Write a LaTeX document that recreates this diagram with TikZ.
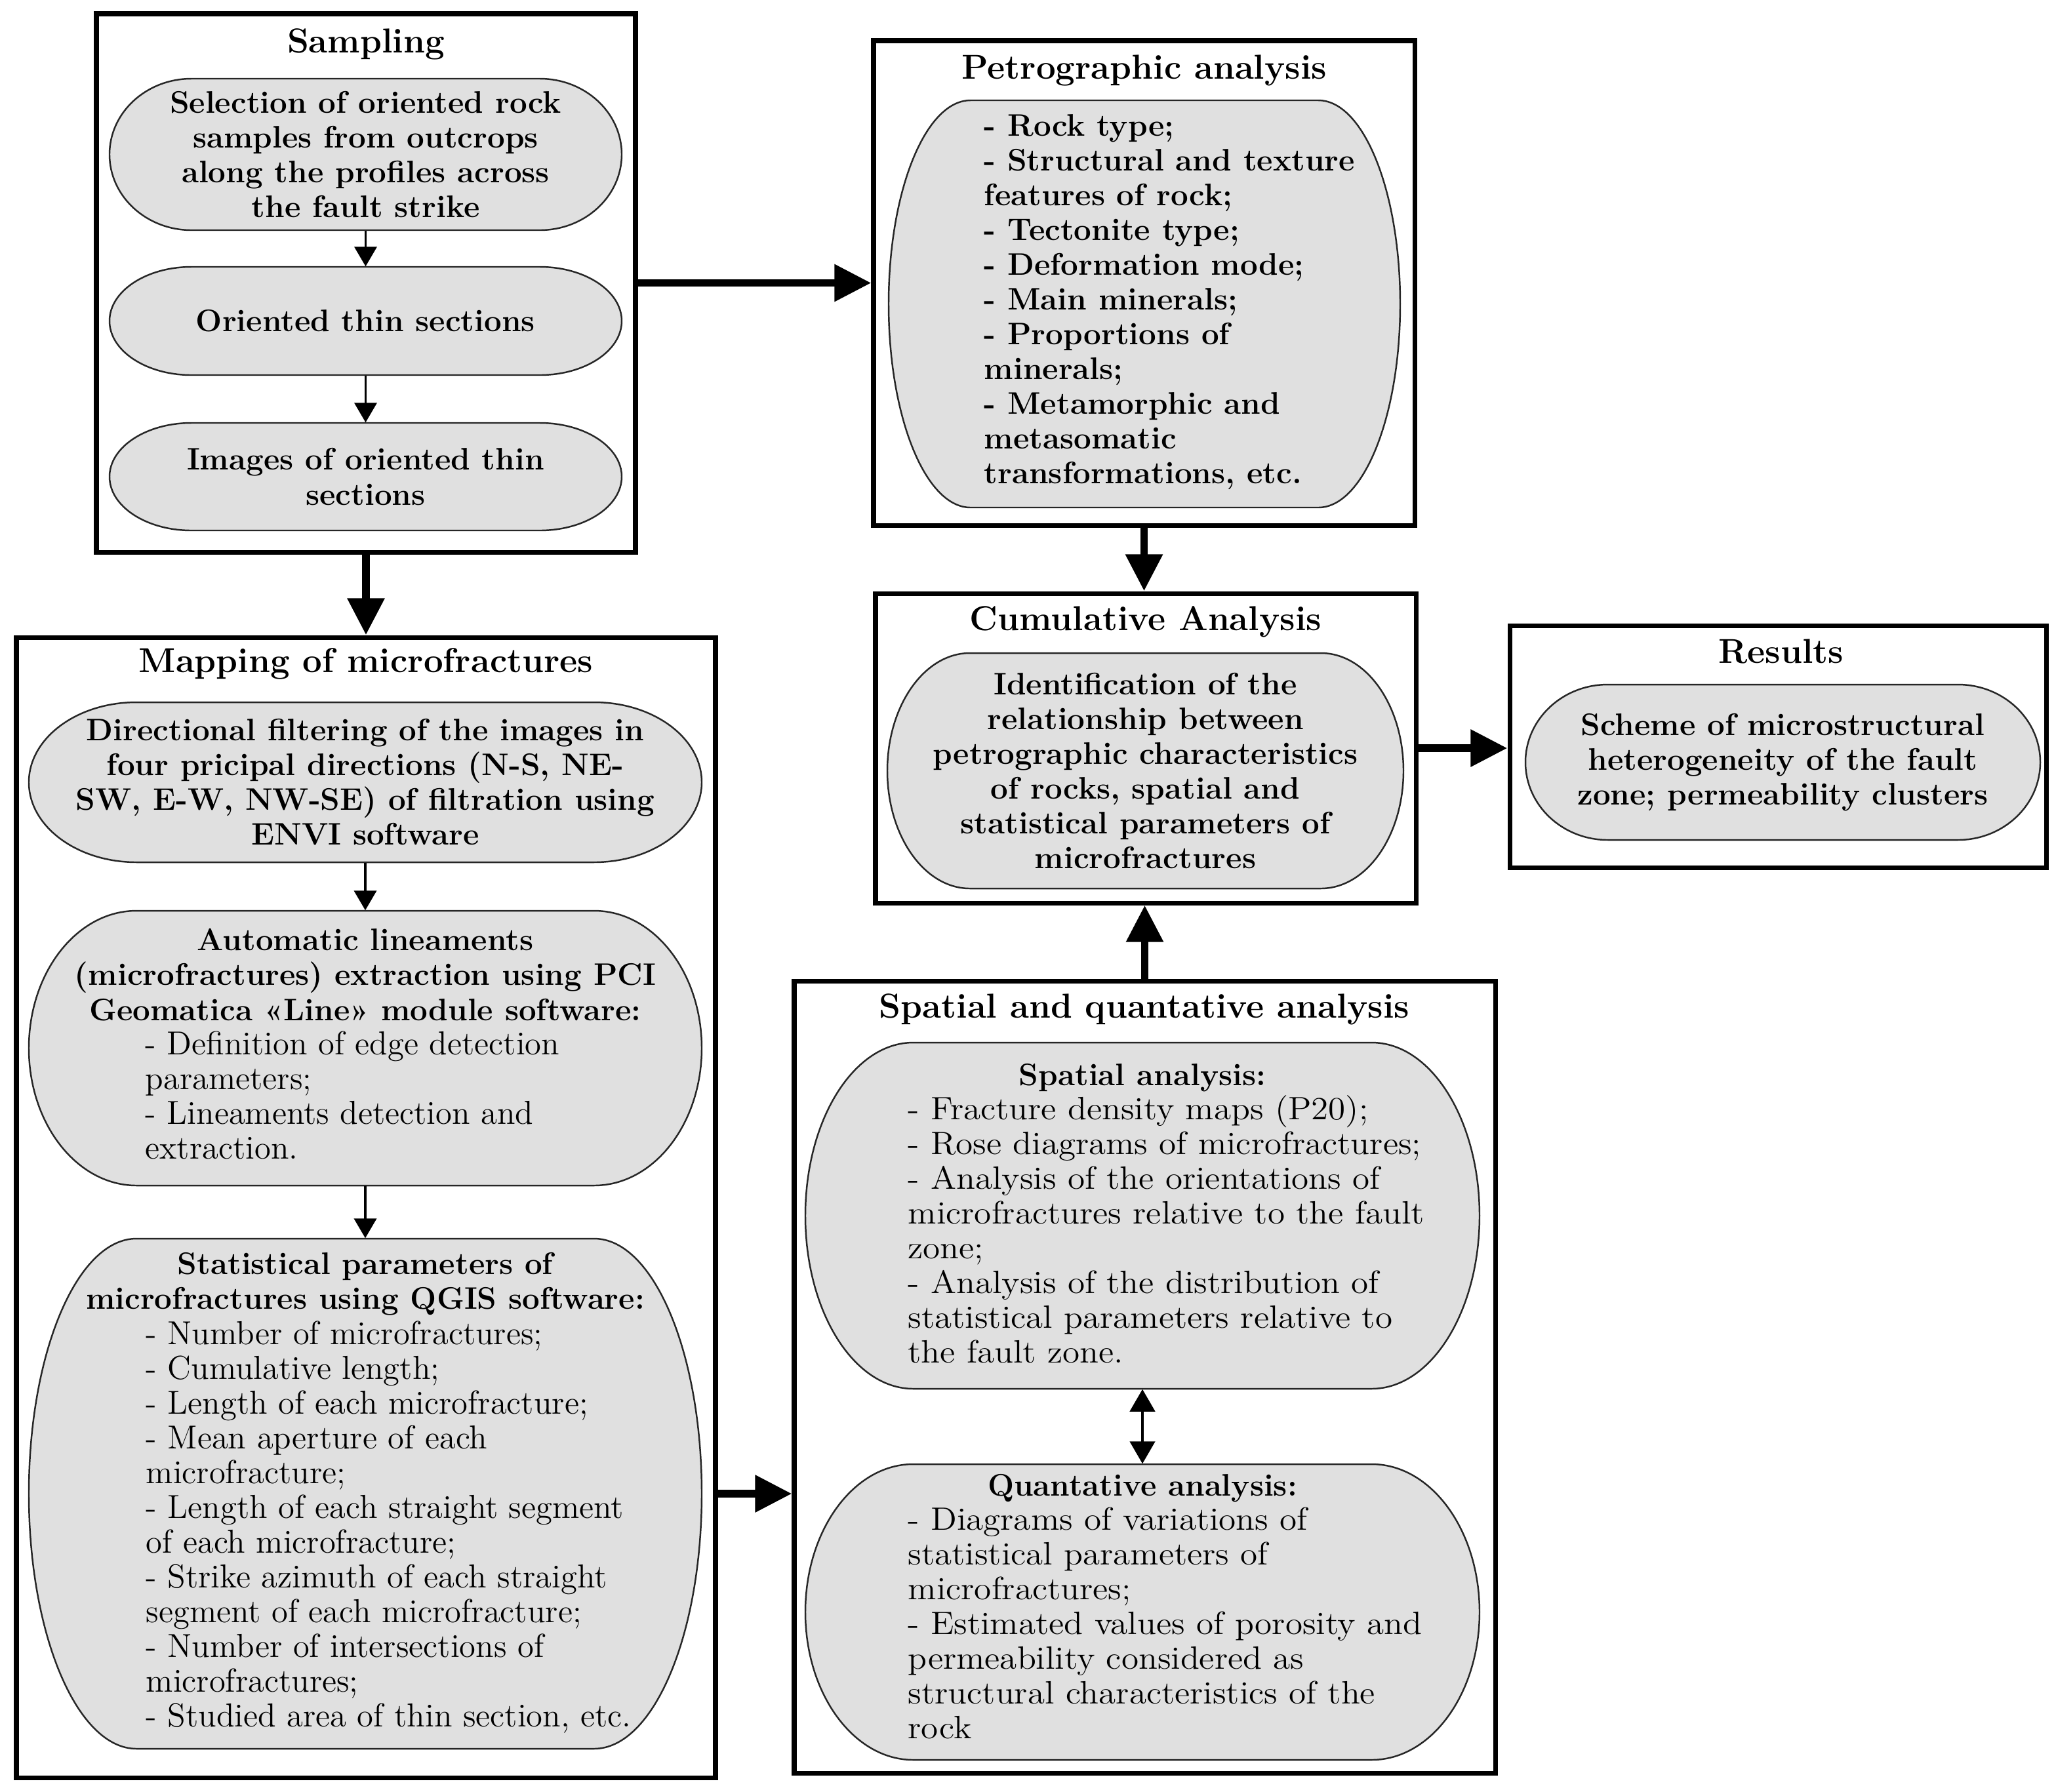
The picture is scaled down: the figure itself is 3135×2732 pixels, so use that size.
\documentclass[tikz,border=0pt]{standalone}
\usepackage{fontspec}
\usetikzlibrary{arrows.meta,backgrounds}
\newfontfamily\widefam{lmroman12-regular.otf}[FakeStretch=1.08]
\definecolor{shapefill}{RGB}{224,224,224}
\newcommand\bodyfont{\fontsize{14.4pt}{15.08pt}\selectfont}
\newcommand\boldfont{\fontsize{13.5pt}{15.08pt}\selectfont\bfseries}
\newcommand\titlefont{\fontsize{15pt}{18pt}\selectfont\bfseries}
\newcommand\widebody{\widefam\fontsize{14pt}{15.08pt}\selectfont}
% name, cx, cy, w, h, text
\newcommand\term[6]{%
  \node[termnode, minimum width=#4*0.01cm, minimum height=#5*0.01cm] (#1) at (#2,#3) {#6};
  \pgfmathsetmacro\rx{0.16*#4}\pgfmathsetmacro\ry{#5/2}%
  \pgfmathsetmacro\xa{#2-#4/2+\rx}\pgfmathsetmacro\xb{#2+#4/2-\rx}%
  \pgfmathsetmacro\yt{#3+#5/2}\pgfmathsetmacro\yb{#3-#5/2}%
  \begin{scope}[on background layer]
    \path[termpath] (\xa,\yt) -- (\xb,\yt)
      arc[start angle=90, end angle=-90, x radius=\rx, y radius=\ry]
      -- (\xa,\yb)
      arc[start angle=270, end angle=90, x radius=\rx, y radius=\ry] -- cycle;
  \end{scope}}
\begin{document}
\begin{tikzpicture}[x=0.01cm,y=0.01cm,
  frame/.style={draw, line width=2pt, rectangle, inner sep=0},
  termnode/.style={rectangle, inner sep=0, draw=none, align=center, font=\boldfont},
  termpath/.style={fill=shapefill, draw=black!85, line width=0.7pt},
  titletext/.style={font=\titlefont, inner sep=0, anchor=base},
  boldtext/.style={font=\boldfont, align=center, inner sep=0, anchor=north},
  listtext/.style={font=\bodyfont, align=left, inner sep=0, anchor=north west},
  widetext/.style={font=\widebody, align=left, inner sep=0, anchor=north west},
  thickarrow/.style={line width=3.4pt, -{Triangle[length=0.56cm,width=0.54cm]}},
  thinarrow/.style={line width=1.1pt, -{Triangle[length=0.3cm,width=0.34cm]}},
  duoarrow/.style={line width=1.3pt, {Triangle[length=0.34cm,width=0.38cm]}-{Triangle[length=0.34cm,width=0.38cm]}}]
\useasboundingbox (0,0) rectangle (3135,-2732);
\begin{scope}[on background layer]
  \fill[white] (0,0) rectangle (3135,-2732);
\end{scope}

% frames
\node[frame, minimum width=822*0.01cm, minimum height=821*0.01cm] (samp) at (558,-431.5) {};
\node[frame, minimum width=825*0.01cm, minimum height=739*0.01cm] (petro) at (1744.5,-431.5) {};
\node[frame, minimum width=824*0.01cm, minimum height=472*0.01cm] (cum) at (1747,-1141) {};
\node[frame, minimum width=818*0.01cm, minimum height=369*0.01cm] (res) at (2711,-1138.5) {};
\node[frame, minimum width=1066*0.01cm, minimum height=1739*0.01cm] (map) at (558,-1841.5) {};
\node[frame, minimum width=1069*0.01cm, minimum height=1208*0.01cm] (spat) at (1745.5,-2100) {};

% titles
\node[titletext] (tsamp) at (558,-80) {Sampling};
\node[titletext] (tpetro) at (1745,-120) {Petrographic analysis};
\node[titletext] (tcum) at (1747,-961) {Cumulative Analysis};
\node[titletext] (tres) at (2716,-1011) {Results};
\node[titletext] (tmap) at (558,-1025) {Mapping of microfractures};
\node[titletext] (tspat) at (1745,-1552) {Spatial and quantative analysis};

% terminator shapes
\term{sel}{557.5}{-235.5}{781}{231}{Selection of oriented rock\\samples from outcrops\\along the profiles across\\the fault strike}
\term{ori}{557.5}{-489.5}{781}{165}{Oriented thin sections}
\term{img}{557.5}{-727}{781}{164}{Images of oriented thin\\sections}
\term{petS}{1745}{-463.5}{780}{621}{}
\term{cumS}{1746.5}{-1175.5}{787}{359}{Identification of the\\relationship between\\petrographic characteristics\\of rocks, spatial and\\statistical parameters of\\microfractures}
\term{resS}{2718.5}{-1162.5}{785}{237}{Scheme of microstructural\\heterogeneity of the fault\\zone; permeability clusters}
\term{dir}{557}{-1193}{1026}{244}{Directional filtering of the images in\\four pricipal directions (N-S, NE-\\SW, E-W, NW-SE) of filtration using\\ENVI software}
\term{lin}{557}{-1598.5}{1026}{419}{}
\term{stat}{557}{-2278}{1026}{778}{}
\term{spa}{1742}{-1854}{1028}{528}{}
\term{qua}{1742}{-2458.5}{1028}{451}{}

% texts inside shapes
\node[boldtext, align=left, anchor=north west] (petL) at (1500,-174) {- Rock type;\\- Structural and texture\\features of rock;\\- Tectonite type;\\- Deformation mode;\\- Main minerals;\\- Proportions of\\minerals;\\- Metamorphic and\\metasomatic\\transformations, etc.};

\node[boldtext] (linH) at (557,-1416) {Automatic lineaments\\(microfractures) extraction using PCI\\Geomatica «Line» module software:};
\node[listtext] (linL) at (221,-1572) {- Definition of edge detection\\parameters;\\- Lineaments detection and\\extraction.};

\node[boldtext] (statH) at (557,-1910) {Statistical parameters of\\microfractures using QGIS software:};
\node[listtext] (statL) at (222,-2014) {- Number of microfractures;\\- Cumulative length;\\- Length of each microfracture;\\- Mean aperture of each\\microfracture;\\- Length of each straight segment\\of each microfracture;\\- Strike azimuth of each straight\\segment of each microfracture;\\- Number of intersections of\\microfractures;\\- Studied area of thin section, etc.};

\node[boldtext] (spaH) at (1742,-1622) {Spatial analysis:};
\node[widetext] (spaL) at (1384,-1670) {- Fracture density maps (P20);\\- Rose diagrams of microfractures;\\- Analysis of the orientations of\\microfractures relative to the fault\\zone;\\- Analysis of the distribution of\\statistical parameters relative to\\the fault zone.};

\node[boldtext] (quaH) at (1742,-2248) {Quantative analysis:};
\node[widetext] (quaL) at (1384,-2298) {- Diagrams of variations of\\statistical parameters of\\microfractures;\\- Estimated values of porosity and\\permeability considered as\\structural characteristics of the\\rock};

% connectors
\draw[thinarrow] (sel.south) -- (ori.north);
\draw[thinarrow] (ori.south) -- (img.north);
\draw[thickarrow] (samp.south) -- (map.north);
\draw[thickarrow] (samp.east) -- (samp.east -| petro.west);
\draw[thickarrow] (petro.south) -- (petro.south |- cum.north);
\draw[thickarrow] (cum.east) -- (cum.east -| res.west);
\draw[thinarrow] (dir.south) -- (lin.north);
\draw[thinarrow] (lin.south) -- (stat.north);
\draw[thickarrow] (map.east |- stat.east) -- (spat.west |- stat.east);
\draw[thickarrow] (spat.north) -- (spat.north |- cum.south);
\draw[duoarrow] (spa.south) -- (qua.north);
\end{tikzpicture}
\end{document}
